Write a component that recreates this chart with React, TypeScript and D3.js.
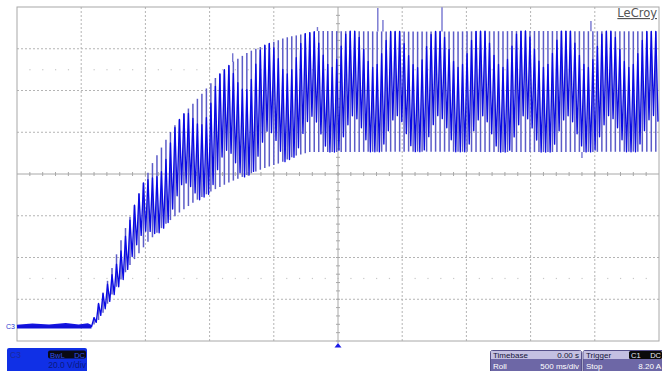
import React from 'react';
import * as d3 from 'd3';

const W = 662;
const H = 371;
const PL = 17, PR = 659, PT = 7, PB = 341;

// Time axis (s): 500 ms/div, 10 divisions, trigger at centre
const timeDomain = [-2.5, 2.5];
// Voltage axis (V): 20 V/div, C3 ground marker near the bottom
const voltDomain = [-6.7, 153.3];

// Upper envelope of the ripple (peak detect)
const upperT = [-1.92, -1.88, -1.81, -1.75, -1.68, -1.6, -1.53, -1.45, -1.37, -1.29, -1.19, -1.07, -0.96, -0.82, -0.69, -0.55, -0.41, -0.3, -0.16, 0.6, 1.5, 2.5];
const upperV = [0, 9.0, 19.5, 30.0, 43.5, 56.0, 67.0, 78.0, 86.5, 95.0, 103.0, 111.0, 119.0, 127.0, 132.0, 135.5, 138.6, 140.0, 141.8, 141.5, 141.8, 141.6];
// Lower envelope of the ripple
const lowerT = [-1.92, -1.85, -1.75, -1.62, -1.49, -1.35, -1.23, -1.1, -0.97, -0.84, -0.71, -0.57, -0.45, -0.34, -0.22, 0.6, 1.5, 2.5];
const lowerV = [0, 4.3, 16.8, 29.7, 40.2, 48.9, 55.1, 60.8, 65.6, 69.5, 72.8, 76.2, 78.6, 81.9, 83.8, 84.0, 83.8, 84.0];

// Sampled ripple: fraction of the half-range (from envelope centre) reached by each sample
const rippleHigh = [1, 1, 0.9, 0.7, 0.5, 0.4, 0.45, 0.63, 0.85, 1, 1, 1, 0.8, 0.6, 0.45, 0.4, 0.53, 0.75, 0.95];
const rippleLow = [-0.4, -0.45, -0.6, -0.8, -1, -1, -1, -0.87, -0.65, -0.47, -0.4, -0.5, -0.7, -0.9, -1, -1, -0.97, -0.75, -0.55];
const rippleStart = -1.9;
const rippleEnd = 2.49;
const rippleStep = 0.035;

// Isolated glitches that stick out of the envelope
const glitchT = [-0.82, -0.16, 0.31, 0.35, 0.81, 1.97, 1.9];
const glitchV = [131.2, 143.7, 152.8, 147.1, 153.2, 146.6, 81.0];

// Flat pre-trigger trace
const flatT = [-2.5, -2.38, -2.25, -2.12, -2.02, -1.95, -1.92];
const flatV = [0.3, 0.9, 0.4, 1.1, 0.5, 1.0, 0.2];

const gridXDivs = 10;
const gridYDivs = 8;

export default function App() {
  const x = d3.scaleLinear().domain(timeDomain).range([PL, PR]);
  const y = d3.scaleLinear().domain(voltDomain).range([PB, PT]);
  const upAt = d3.scaleLinear().domain(upperT).range(upperV).clamp(true);
  const loAt = d3.scaleLinear().domain(lowerT).range(lowerV).clamp(true);

  const dx = (PR - PL) / gridXDivs;
  const dy = (PB - PT) / gridYDivs;
  const cx = PL + dx * 5;
  const cy = PT + dy * 4;

  const n = Math.floor((rippleEnd - rippleStart) / rippleStep) + 1;
  const spikes = d3.range(n).map((i) => {
    const t = rippleStart + i * rippleStep;
    const u = upAt(t);
    const l = loAt(t);
    const c = (u + l) / 2;
    const h = (u - l) / 2;
    return {
      t,
      u,
      l,
      hi: c + rippleHigh[i % rippleHigh.length] * h,
      lo: c + rippleLow[i % rippleLow.length] * h,
    };
  });

  const zig: [number, number][] = [[x(-1.92), y(0)]];
  spikes.forEach((s) => {
    zig.push([x(s.t), y(s.hi)]);
    zig.push([x(s.t) + 2.2, y(s.lo)]);
  });
  const line = d3.line();

  const flatPts: [number, number][] = flatT.map((t, i) => [x(t), y(flatV[i])]);

  const gridStroke = '#b4b4b4';
  const font = 'Liberation Sans, Arial, sans-serif';

  return (
    <svg width={W} height={H} style={{ position: 'absolute', left: 0, top: 0, background: '#fff' }} fontFamily={font}>
      <rect x={0} y={0} width={W} height={H} fill="#fff" />
      {/* grid */}
      {d3.range(1, gridXDivs).filter((i) => i !== 5).map((i) => (
        <line key={'gx' + i} x1={PL + i * dx} x2={PL + i * dx} y1={PT} y2={PB} stroke={gridStroke} strokeWidth={1} strokeDasharray="2,2" />
      ))}
      {d3.range(1, gridYDivs).filter((i) => i !== 4).map((i) => (
        <line key={'gy' + i} x1={PL} x2={PR} y1={PT + i * dy} y2={PT + i * dy} stroke={gridStroke} strokeWidth={1} strokeDasharray="2,2" />
      ))}
      {[1.5, 6.5].map((r) => d3.range(1, gridXDivs * 5).map((k) => (
        <rect key={'dot' + r + '-' + k} x={PL + (k * dx) / 5 - 0.5} y={PT + r * dy - 0.5} width={1.2} height={1.2} fill="#c8c8c8" />
      )))}
      {/* centre axes with minor ticks */}
      <line x1={cx} x2={cx} y1={PT} y2={PB + 2} stroke="#a8a8a8" strokeWidth={1} />
      <line x1={PL} x2={PR} y1={cy} y2={cy} stroke="#a8a8a8" strokeWidth={1} />
      {d3.range(1, gridXDivs * 5).map((k) => (
        <line key={'tx' + k} x1={PL + (k * dx) / 5} x2={PL + (k * dx) / 5} y1={cy - 2} y2={cy + 2} stroke="#a8a8a8" strokeWidth={1} />
      ))}
      {d3.range(1, gridYDivs * 5 + 1).map((k) => (
        <line key={'ty' + k} x1={cx - 2} x2={cx + 2} y1={PT + (k * dy) / 5} y2={PT + (k * dy) / 5} stroke="#a8a8a8" strokeWidth={1} />
      ))}
      <rect x={PL} y={PT} width={PR - PL} height={PB - PT} fill="none" stroke="#a8a8a8" strokeWidth={1} />

      {/* flat trace */}
      <path d={line(flatPts) || ''} fill="none" stroke="#1414e0" strokeWidth={3.2} />
      <line x1={x(-2.5)} x2={x(-1.92)} y1={y(0)} y2={y(0)} stroke="#1010d8" strokeWidth={3} />

      {/* ripple: peak-detect columns */}
      {spikes.map((s, i) => (
        <line key={'sp' + i} x1={x(s.t)} x2={x(s.t)} y1={y(s.l)} y2={y(s.u)} stroke="#5c5cc8" strokeWidth={1.5} />
      ))}
      {glitchT.map((t, i) => (
        <line key={'gl' + i} x1={x(t)} x2={x(t)} y1={y(glitchV[i] > 100 ? upAt(t) : loAt(t))} y2={y(glitchV[i])} stroke="#7474d0" strokeWidth={1.4} />
      ))}
      {/* sampled trace */}
      <path d={line(zig) || ''} fill="none" stroke="#0a0ae4" strokeWidth={1.35} strokeLinejoin="round" />

      {/* C3 ground marker */}
      <text x={6} y={y(0) + 2} fontSize={7} fill="#2a3ad0">C3</text>
      {/* trigger marker */}
      <path d={`M${cx - 3.5},${PB + 6.5} L${cx + 3.5},${PB + 6.5} L${cx},${PB + 2} Z`} fill="#1a1ae6" />

      {/* LeCroy logo */}
      <text x={657} y={17} fontSize={11.5} textAnchor="end" fill="#555" textDecoration="underline" fontFamily="DejaVu Sans, sans-serif">LeCroy</text>

      {/* channel box */}
      <rect x={7} y={348} width={80} height={30} rx={2} fill="#1030e6" />
      <text x={10} y={358} fontSize={8.5} fill="#1a2a9c">C3</text>
      <rect x={48} y={350.5} width={38} height={8} rx={2} fill="#0a0a14" />
      <text x={50} y={357.5} fontSize={7.5} fill="#3050e8">BwL</text>
      <text x={85} y={357.5} fontSize={7.5} fill="#3050e8" textAnchor="end">DC</text>
      <text x={86} y={368} fontSize={8.5} fill="#0a1a80" textAnchor="end">20.0 V/div</text>

      {/* timebase box */}
      <rect x={490.5} y={350.5} width={91} height={25} rx={2} fill="#6d67a6" stroke="#55508a" />
      <rect x={491} y={351} width={90} height={8} fill="#c4c0e2" />
      <text x={493} y={358} fontSize={8} fill="#15153a">Timebase</text>
      <text x={579} y={358} fontSize={8} fill="#15153a" textAnchor="end">0.00 s</text>
      <text x={493} y={369} fontSize={8} fill="#ffffff">Roll</text>
      <text x={579} y={369} fontSize={8} fill="#ffffff" textAnchor="end">500 ms/div</text>

      {/* trigger box */}
      <rect x={583} y={350.5} width={82} height={25} rx={2} fill="#6d67a6" stroke="#55508a" />
      <rect x={583.5} y={351} width={80} height={8} fill="#c4c0e2" />
      <text x={586} y={358} fontSize={8} fill="#15153a">Trigger</text>
      <rect x={629} y={351} width={33} height={8} rx={1.5} fill="#0a0a0a" />
      <text x={631} y={358} fontSize={7.5} fill="#e8e8f0">C1</text>
      <text x={661} y={358} fontSize={7.5} fill="#e8e8f0" textAnchor="end">DC</text>
      <text x={586} y={369} fontSize={8} fill="#ffffff">Stop</text>
      <text x={661} y={369} fontSize={8} fill="#ffffff" textAnchor="end">8.20 A</text>
    </svg>
  );
}
